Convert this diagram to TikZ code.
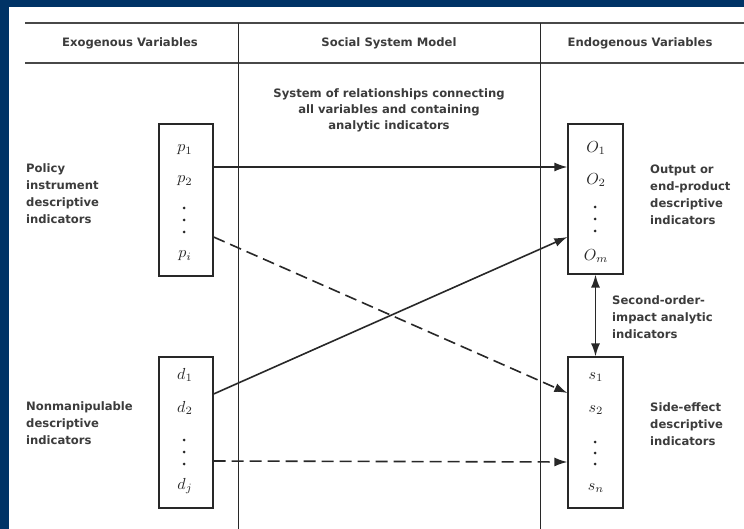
\documentclass[tikz,border=0pt]{standalone}
\usepackage{graphicx}
\usepackage{fontspec}
\setmainfont{DejaVu Sans}
\usetikzlibrary{arrows.meta}
\definecolor{navy}{RGB}{0,51,102}
\definecolor{ink}{RGB}{40,40,40}
\definecolor{tink}{RGB}{60,60,60}
\newcommand{\itm}[1]{\scalebox{1.6}{$#1$}}
\begin{document}
\begin{tikzpicture}[x=1pt,y=-1pt,
  txt/.style={font=\fontsize{11.6}{17}\selectfont\bfseries, text=tink, inner sep=0pt},
  lbl/.style={txt, align=left, anchor=west},
  ctr/.style={txt, align=center},
  varbox/.style={draw=ink, line width=1.2pt, inner sep=0pt},
  item/.style={text=ink, inner sep=0pt},
  dotmark/.style={fill=ink},
  conn/.style={draw=ink, line width=1.6pt, -{Latex[length=13pt,width=9pt]}},
  dconn/.style={conn, dash pattern=on 12pt off 6pt},
  rule/.style={draw=ink!85, line width=1.5pt},
  vrule/.style={draw=ink, line width=1pt}]
\useasboundingbox (0,0) rectangle (744,529);
\fill[navy] (0,0) rectangle (744,529);
\fill[white] (9,7) rectangle (744,529);
% table rules
\draw[rule] (25,23) -- (744,23);
\draw[rule] (25,63) -- (744,63);
\draw[vrule] (238,23) -- (238,529);
\draw[vrule] (540,23) -- (540,529);
% headers
\node[ctr] (h1) at (130,43) {Exogenous Variables};
\node[ctr] (h2) at (389,43) {Social System Model};
\node[ctr] (h3) at (640,43) {Endogenous Variables};
\node[ctr, font=\fontsize{11.6}{16}\selectfont\bfseries] (sys) at (389,110) {System of relationships connecting\\all variables and containing\\analytic indicators};
% boxes
\node[varbox, minimum width=54pt, minimum height=152pt] (P) at (186,200) {};
\node[varbox, minimum width=54pt, minimum height=151pt] (D) at (186,432.5) {};
\node[varbox, minimum width=55pt, minimum height=150pt] (O) at (595.5,199) {};
\node[varbox, minimum width=55pt, minimum height=151pt] (S) at (595.5,432.5) {};
% items
\node[item] (p1) at (185,150) {\itm{p_1}};
\node[item] (p2) at (185,181) {\itm{p_2}};
\node[item] (pi) at (185,256) {\itm{p_i}};
\node[item] (d1) at (185,375) {\itm{d_1}};
\node[item] (d2) at (185,408) {\itm{d_2}};
\node[item] (dj) at (185,486) {\itm{d_j}};
\node[item] (o1) at (596,148) {\itm{O_1}};
\node[item] (o2) at (596,180) {\itm{O_2}};
\node[item] (om) at (596,256) {\itm{O_m}};
\node[item] (s1) at (596,377) {\itm{s_1}};
\node[item] (s2) at (596,410) {\itm{s_2}};
\node[item] (sn) at (596,488) {\itm{s_n}};
% vertical dots
\foreach \y in {208,220,232} \fill[dotmark] (184,\y) circle (1.5pt);
\foreach \y in {440,452,464} \fill[dotmark] (184,\y) circle (1.5pt);
\foreach \y in {207,219,231} \fill[dotmark] (595,\y) circle (1.5pt);
\foreach \y in {442,453,464} \fill[dotmark] (595,\y) circle (1.5pt);
% side labels
\node[lbl] (lp) at (26,193.5) {Policy\\instrument\\descriptive\\indicators};
\node[lbl] (ld) at (26,423) {Nonmanipulable\\descriptive\\indicators};
\node[lbl] (lo) at (650,195) {Output or\\end-product\\descriptive\\indicators};
\node[lbl] (ls) at (650,424) {Side-effect\\descriptive\\indicators};
\node[lbl] (lsec) at (612,317.5) {Second-order-\\impact analytic\\indicators};
% connectors
\draw[conn] ([yshift=33pt]P.east) -- ([yshift=32pt]O.west);
\draw[dconn] ([yshift=-37pt]P.east) -- ([yshift=39.5pt]S.west);
\draw[conn] ([yshift=38.5pt]D.east) -- ([yshift=-38pt]O.west);
\draw[dconn] ([yshift=-28.5pt]D.east) -- ([yshift=-29.5pt]S.west);
\draw[conn, {Latex[length=13pt,width=9pt]}-{Latex[length=13pt,width=9pt]}] (O.south) -- (S.north);
\end{tikzpicture}
\end{document}
